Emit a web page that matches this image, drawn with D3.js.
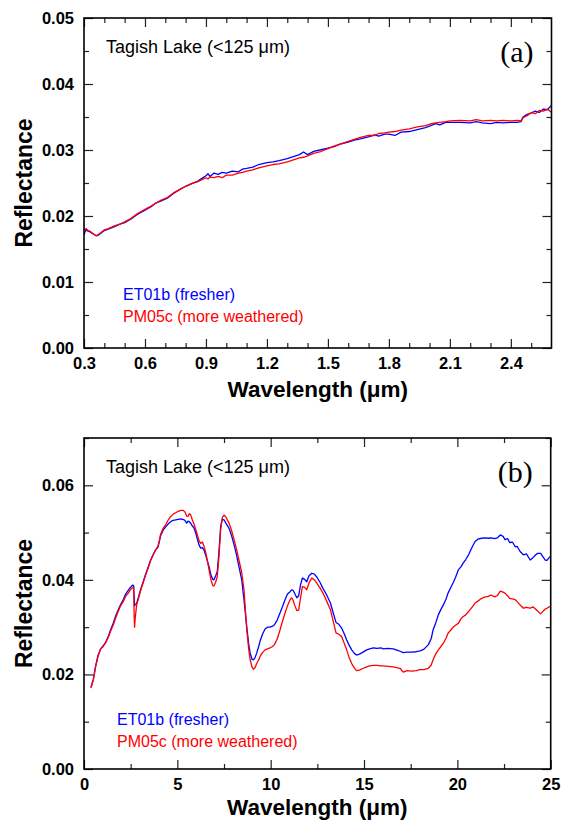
<!DOCTYPE html>
<html>
<head>
<meta charset="utf-8">
<script src="https://cdn.jsdelivr.net/npm/d3@7"></script>
<style>
  body { margin: 0; background: #fff; }
  svg { display: block; font-family: "Liberation Sans", Arial, sans-serif; }
  .tick text { font-size: 16.5px; font-weight: bold; fill: #000; }
  .tick line { stroke: #222; stroke-width: 1.2; }
</style>
</head>
<body>
<div id="chart"></div>
<script>
// panel (a): VNIR spectra
var waveA = [0.30,0.31,0.32,0.33,0.34,0.35,0.36,0.37,0.38,0.40,0.42,0.45,0.48,0.50,0.53,0.56,0.60,0.63,0.65,0.68,0.71,0.74,0.77,0.80,0.83,0.86,0.88,0.90,0.91,0.92,0.94,0.96,0.98,1.00,1.03,1.06,1.08,1.10,1.13,1.16,1.20,1.23,1.26,1.30,1.33,1.36,1.38,1.40,1.43,1.46,1.50,1.53,1.56,1.60,1.63,1.66,1.70,1.73,1.75,1.78,1.80,1.83,1.86,1.90,1.94,1.98,2.00,2.03,2.05,2.08,2.10,2.15,2.20,2.23,2.26,2.30,2.33,2.36,2.40,2.43,2.45,2.46,2.48,2.50,2.52,2.54,2.56,2.58,2.60];
var blueA = [0.0172,0.0179,0.0177,0.0176,0.0174,0.0172,0.0170,0.0171,0.0173,0.0178,0.0180,0.0184,0.0188,0.0190,0.0195,0.0202,0.0209,0.0214,0.0219,0.0223,0.0227,0.0234,0.0240,0.0245,0.0249,0.0253,0.0257,0.0261,0.0264,0.0260,0.0265,0.0263,0.0266,0.0265,0.0268,0.0267,0.0271,0.0272,0.0274,0.0278,0.0281,0.0282,0.0284,0.0287,0.0290,0.0293,0.0297,0.0293,0.0298,0.0300,0.0303,0.0305,0.0309,0.0312,0.0315,0.0317,0.0320,0.0323,0.0321,0.0324,0.0324,0.0322,0.0327,0.0328,0.0331,0.0334,0.0336,0.0340,0.0338,0.0342,0.0342,0.0342,0.0341,0.0343,0.0341,0.0340,0.0342,0.0341,0.0342,0.0342,0.0343,0.0350,0.0354,0.0356,0.0359,0.0357,0.0362,0.0361,0.0368];
var redA = [0.0178,0.0181,0.0178,0.0177,0.0174,0.0172,0.0170,0.0172,0.0174,0.0179,0.0181,0.0185,0.0188,0.0191,0.0196,0.0203,0.0210,0.0215,0.0219,0.0224,0.0228,0.0235,0.0240,0.0245,0.0249,0.0252,0.0255,0.0258,0.0256,0.0259,0.0258,0.0260,0.0258,0.0262,0.0262,0.0265,0.0266,0.0268,0.0270,0.0273,0.0276,0.0278,0.0279,0.0282,0.0285,0.0288,0.0289,0.0291,0.0295,0.0297,0.0302,0.0306,0.0309,0.0313,0.0316,0.0319,0.0322,0.0322,0.0325,0.0326,0.0327,0.0328,0.0330,0.0332,0.0335,0.0337,0.0339,0.0341,0.0342,0.0343,0.0344,0.0345,0.0344,0.0346,0.0344,0.0345,0.0344,0.0345,0.0344,0.0345,0.0344,0.0349,0.0352,0.0357,0.0355,0.0360,0.0359,0.0362,0.0357];

// panel (b): full range spectra
var waveB = [0.37,0.5,0.62,0.75,0.89,1.0,1.16,1.3,1.43,1.57,1.7,1.83,1.96,2.1,2.23,2.37,2.5,2.62,2.66,2.69,2.71,2.74,2.82,2.93,3.04,3.17,3.3,3.43,3.57,3.7,3.84,3.96,4.03,4.1,4.24,4.38,4.5,4.64,4.78,4.91,5.05,5.18,5.3,5.4,5.5,5.57,5.64,5.71,5.8,5.89,6.0,6.16,6.25,6.34,6.43,6.52,6.61,6.7,6.8,6.9,6.96,7.05,7.14,7.23,7.32,7.41,7.5,7.6,7.77,7.9,8.04,8.17,8.3,8.45,8.57,8.72,8.82,8.9,9.0,9.07,9.16,9.25,9.35,9.43,9.56,9.7,9.83,9.96,10.1,10.2,10.35,10.5,10.63,10.77,10.9,11.04,11.12,11.2,11.3,11.4,11.5,11.6,11.7,11.82,11.93,12.05,12.2,12.34,12.47,12.64,12.8,13.0,13.2,13.35,13.5,13.65,13.8,13.95,14.07,14.2,14.34,14.5,14.6,14.75,14.9,15.15,15.3,15.5,15.7,15.9,16.04,16.3,16.57,16.8,16.93,17.1,17.3,17.55,17.8,18.0,18.2,18.45,18.6,18.7,18.85,18.98,19.1,19.25,19.4,19.5,19.65,19.8,19.9,20.05,20.2,20.3,20.45,20.6,20.8,20.95,21.1,21.3,21.5,21.66,21.8,22.0,22.15,22.3,22.45,22.55,22.7,22.8,22.95,23.1,23.2,23.36,23.54,23.7,23.9,24.05,24.2,24.3,24.46,24.6,24.7,24.8,24.96];
var blueB = [0.0173,0.0190,0.0217,0.0240,0.0254,0.0259,0.0268,0.0280,0.0295,0.0309,0.0324,0.0336,0.0348,0.0358,0.0370,0.0378,0.0385,0.0389,0.0387,0.0360,0.0345,0.0348,0.0350,0.0365,0.0381,0.0396,0.0412,0.0426,0.0442,0.0453,0.0464,0.0469,0.0480,0.0493,0.0505,0.0512,0.0518,0.0523,0.0526,0.0527,0.0528,0.0529,0.0528,0.0526,0.0520,0.0524,0.0523,0.0520,0.0514,0.0510,0.0497,0.0474,0.0467,0.0468,0.0463,0.0452,0.0440,0.0428,0.0410,0.0401,0.0400,0.0408,0.0418,0.0460,0.0513,0.0528,0.0527,0.0520,0.0509,0.0494,0.0474,0.0453,0.0428,0.0400,0.0358,0.0300,0.0265,0.0245,0.0232,0.0231,0.0235,0.0245,0.0258,0.0270,0.0285,0.0296,0.0300,0.0300,0.0302,0.0305,0.0315,0.0330,0.0343,0.0358,0.0370,0.0375,0.0379,0.0378,0.0370,0.0362,0.0366,0.0390,0.0404,0.0401,0.0396,0.0408,0.0414,0.0412,0.0406,0.0395,0.0382,0.0368,0.0351,0.0330,0.0310,0.0306,0.0298,0.0285,0.0273,0.0262,0.0252,0.0244,0.0241,0.0243,0.0246,0.0252,0.0254,0.0256,0.0255,0.0256,0.0254,0.0255,0.0254,0.0251,0.0249,0.0246,0.0247,0.0247,0.0248,0.0250,0.0253,0.0263,0.0276,0.0294,0.0310,0.0326,0.0336,0.0347,0.0360,0.0372,0.0384,0.0396,0.0405,0.0421,0.0428,0.0435,0.0443,0.0453,0.0470,0.0481,0.0486,0.0488,0.0489,0.0488,0.0489,0.0487,0.0489,0.0495,0.0492,0.0485,0.0487,0.0479,0.0480,0.0470,0.0471,0.0460,0.0453,0.0455,0.0442,0.0447,0.0453,0.0456,0.0456,0.0448,0.0442,0.0441,0.0449];
var redB = [0.0171,0.0188,0.0216,0.0238,0.0254,0.0258,0.0267,0.0278,0.0292,0.0305,0.0320,0.0333,0.0345,0.0354,0.0365,0.0372,0.0380,0.0384,0.0383,0.0320,0.0300,0.0318,0.0347,0.0362,0.0378,0.0394,0.0410,0.0424,0.0441,0.0452,0.0463,0.0471,0.0482,0.0496,0.0509,0.0517,0.0526,0.0534,0.0539,0.0542,0.0545,0.0547,0.0547,0.0544,0.0535,0.0534,0.0540,0.0538,0.0527,0.0518,0.0505,0.0483,0.0477,0.0480,0.0471,0.0458,0.0440,0.0421,0.0400,0.0388,0.0387,0.0395,0.0407,0.0450,0.0506,0.0532,0.0537,0.0533,0.0520,0.0505,0.0485,0.0465,0.0442,0.0415,0.0379,0.0294,0.0255,0.0231,0.0216,0.0211,0.0214,0.0223,0.0230,0.0238,0.0246,0.0252,0.0254,0.0256,0.0259,0.0263,0.0275,0.0294,0.0312,0.0330,0.0345,0.0358,0.0362,0.0357,0.0345,0.0335,0.0336,0.0362,0.0386,0.0384,0.0379,0.0393,0.0404,0.0400,0.0393,0.0383,0.0372,0.0355,0.0337,0.0312,0.0288,0.0285,0.0280,0.0265,0.0252,0.0236,0.0223,0.0213,0.0208,0.0209,0.0212,0.0216,0.0218,0.0219,0.0219,0.0218,0.0218,0.0217,0.0216,0.0214,0.0213,0.0205,0.0208,0.0207,0.0208,0.0210,0.0210,0.0213,0.0220,0.0231,0.0244,0.0252,0.0258,0.0266,0.0277,0.0287,0.0294,0.0301,0.0304,0.0308,0.0318,0.0322,0.0326,0.0333,0.0343,0.0351,0.0355,0.0361,0.0364,0.0365,0.0368,0.0364,0.0367,0.0376,0.0374,0.0372,0.0366,0.0361,0.0360,0.0358,0.0354,0.0347,0.0340,0.0342,0.0340,0.0343,0.0338,0.0334,0.0328,0.0334,0.0338,0.0340,0.0344];

// tick values
var xMajorA = [0.3,0.6,0.9,1.2,1.5,1.8,2.1,2.4];
var xMinorA = [0.4,0.5,0.7,0.8,1.0,1.1,1.3,1.4,1.6,1.7,1.9,2.0,2.2,2.3,2.5];
var yMajorA = [0.00,0.01,0.02,0.03,0.04,0.05];
var yMinorA = [0.005,0.015,0.025,0.035,0.045];
var xMajorB = [0,5,10,15,20,25];
var xMinorB = [2.5,7.5,12.5,17.5,22.5];
var yMajorB = [0.00,0.02,0.04,0.06];
var yMinorB = [0.01,0.03,0.05,0.07];

var sampleNames = ['ET01b (fresher)', 'PM05c (more weathered)'];
var sampleColors = ['#0000ff', '#ff0000'];

var svg = d3.select("#chart")
    .append("svg")
    .attr("width", 562)
    .attr("height", 821);

function drawPanel(cfg) {
    var w = cfg.w, h = cfg.h;
    var g = svg.append("g")
        .attr("transform", "translate(" + cfg.left + "," + cfg.top + ")");

    var x = d3.scaleLinear().domain(cfg.xDomain).range([0, w]);
    var y = d3.scaleLinear().domain(cfg.yDomain).range([h, 0]);

    // minor ticks on all four sides, pointing inwards
    g.append("g").attr("transform", "translate(0," + h + ")")
        .call(d3.axisBottom(x).tickValues(cfg.xMinor).tickSize(-5).tickFormat(""));
    g.append("g")
        .call(d3.axisTop(x).tickValues(cfg.xMinor).tickSize(-5).tickFormat(""));
    g.append("g")
        .call(d3.axisLeft(y).tickValues(cfg.yMinor).tickSize(-5).tickFormat(""));
    g.append("g").attr("transform", "translate(" + w + ",0)")
        .call(d3.axisRight(y).tickValues(cfg.yMinor).tickSize(-5).tickFormat(""));

    // major ticks
    g.append("g").attr("transform", "translate(0," + h + ")")
        .call(d3.axisBottom(x).tickValues(cfg.xMajor).tickSize(-9).tickPadding(9).tickFormat(cfg.xFormat));
    g.append("g")
        .call(d3.axisTop(x).tickValues(cfg.xMajor).tickSize(-9).tickFormat(""));
    g.append("g")
        .call(d3.axisLeft(y).tickValues(cfg.yMajor).tickSize(-9).tickPadding(10).tickFormat(d3.format(".2f")));
    g.append("g").attr("transform", "translate(" + w + ",0)")
        .call(d3.axisRight(y).tickValues(cfg.yMajor).tickSize(-9).tickFormat(""));

    g.selectAll(".domain").remove();

    // spectra
    var line = d3.line()
        .x(function(d) { return x(d[0]); })
        .y(function(d) { return y(d[1]); });

    [cfg.blue, cfg.red].forEach(function(vals, i) {
        var pts = cfg.wave.map(function(wl, j) { return [wl, vals[j]]; });
        g.append("path")
            .datum(pts)
            .attr("fill", "none")
            .attr("stroke", sampleColors[i])
            .attr("stroke-width", 1.3)
            .attr("stroke-linejoin", "round")
            .attr("d", line);
    });

    // frame
    g.append("rect")
        .attr("width", w)
        .attr("height", h)
        .attr("fill", "none")
        .attr("stroke", "#000")
        .attr("stroke-width", 1.6);

    // texts
    g.append("text")
        .attr("x", 22)
        .attr("y", cfg.titleY)
        .style("font-size", "18px")
        .text("Tagish Lake (<125 \u03bcm)");

    g.append("text")
        .attr("x", w - 18)
        .attr("y", cfg.tagY)
        .attr("text-anchor", "end")
        .style("font-family", "'Liberation Serif', 'Times New Roman', serif")
        .style("font-size", "30px")
        .text(cfg.tag);

    sampleNames.forEach(function(name, i) {
        g.append("text")
            .attr("x", cfg.legendX)
            .attr("y", cfg.legendY + i * 22)
            .style("font-size", "16px")
            .style("fill", sampleColors[i])
            .text(name);
    });

    g.append("text")
        .attr("x", w / 2)
        .attr("y", cfg.xLabelY)
        .attr("text-anchor", "middle")
        .style("font-size", "22.5px")
        .style("font-weight", "bold")
        .text("Wavelength (\u03bcm)");

    g.append("text")
        .attr("transform", "translate(" + (32 - cfg.left) + "," + (h / 2) + ") rotate(-90)")
        .attr("text-anchor", "middle")
        .style("font-size", "23px")
        .style("font-weight", "bold")
        .text("Reflectance");
}

drawPanel({
    left: 84, top: 18, w: 467.5, h: 330,
    xDomain: [0.3, 2.6], yDomain: [0, 0.05],
    xMajor: xMajorA, xMinor: xMinorA, yMajor: yMajorA, yMinor: yMinorA,
    xFormat: d3.format(".1f"),
    wave: waveA, blue: blueA, red: redA,
    titleY: 35, tag: "(a)", tagY: 44,
    legendX: 39, legendY: 282,
    xLabelY: 379
});

drawPanel({
    left: 84, top: 438, w: 466.7, h: 331,
    xDomain: [0, 25], yDomain: [0, 0.07],
    xMajor: xMajorB, xMinor: xMinorB, yMajor: yMajorB, yMinor: yMinorB,
    xFormat: d3.format("d"),
    wave: waveB, blue: blueB, red: redB,
    titleY: 35, tag: "(b)", tagY: 44,
    legendX: 33, legendY: 287,
    xLabelY: 377
});
</script>
</body>
</html>
